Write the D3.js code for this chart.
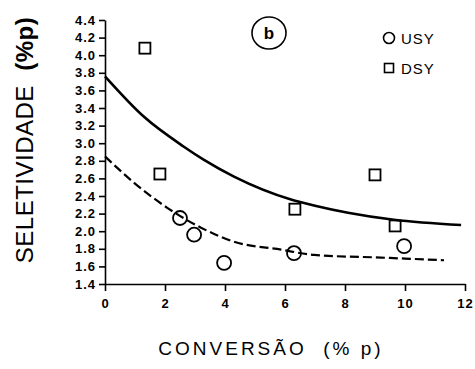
<!DOCTYPE html>
<html>
<head>
<meta charset="utf-8">
<script src="https://cdn.jsdelivr.net/npm/d3@7"></script>
<style>
  body { margin: 0; background: #fff; }
  svg { font-family: 'Liberation Sans', Arial, sans-serif; }
  .axis path, .axis line { stroke: #000; stroke-width: 1.6; }
  .axis text { font-size: 13px; font-weight: bold; fill: #000; letter-spacing: 1px; }
</style>
</head>
<body>
<svg id="chart" width="475" height="369"></svg>
<script>
const usyX = [2.5, 2.97, 3.97, 6.3, 9.97]
const usyY = [2.15, 1.96, 1.64, 1.75, 1.83]
const dsyX = [1.33, 1.83, 6.33, 9.0, 9.67]
const dsyY = [4.08, 2.65, 2.25, 2.64, 2.06]

// fitted curves as drawn (solid = DSY, dashed = USY)
const dsyCurveX = [0, 1.3, 2.63, 3.3, 4.3, 6.2, 7.0, 8.1, 9.63, 11.87]
const dsyCurveY = [3.76, 3.30, 2.96, 2.81, 2.62, 2.36, 2.29, 2.21, 2.13, 2.07]
const usyCurveX = [0, 0.97, 2.1, 3.2, 4.3, 5.87, 6.97, 9.2, 11.3]
const usyCurveY = [2.85, 2.55, 2.26, 2.04, 1.88, 1.79, 1.73, 1.70, 1.67]

const xTicks = [0, 2, 4, 6, 8, 10, 12]
const yTicks = d3.range(14, 45, 2).map(v => v / 10)
const legendLabels = ['USY', 'DSY']

const svg = d3.select('#chart')
const x = d3.scaleLinear().domain([0, 12]).range([105, 465])
const y = d3.scaleLinear().domain([1.4, 4.4]).range([284, 20])

const zip = (a, b) => a.map((v, i) => [v, b[i]])

svg.append('g').classed('axis', true)
  .attr('transform', `translate(0,${y(1.4)})`)
  .call(d3.axisBottom(x).tickValues(xTicks).tickSize(7).tickSizeOuter(0).tickPadding(8).tickFormat(d3.format('d')))

svg.append('g').classed('axis', true)
  .attr('transform', `translate(${x(0)},0)`)
  .call(d3.axisLeft(y).tickValues(yTicks).tickSize(6).tickSizeOuter(0).tickPadding(3).tickFormat(d3.format('.1f')))

const line = d3.line().x(d => x(d[0])).y(d => y(d[1])).curve(d3.curveMonotoneX)

svg.append('path')
  .attr('d', line(zip(dsyCurveX, dsyCurveY)))
  .attr('fill', 'none').attr('stroke', '#000').attr('stroke-width', 2.6)

svg.append('path')
  .attr('d', line(zip(usyCurveX, usyCurveY)))
  .attr('fill', 'none').attr('stroke', '#000').attr('stroke-width', 2.2)
  .attr('stroke-dasharray', '9,4')

svg.append('g').selectAll('circle')
  .data(zip(usyX, usyY)).join('circle')
  .attr('cx', d => x(d[0])).attr('cy', d => y(d[1])).attr('r', 7)
  .attr('fill', 'none').attr('stroke', '#000').attr('stroke-width', 1.8)

svg.append('g').selectAll('rect')
  .data(zip(dsyX, dsyY)).join('rect')
  .attr('x', d => x(d[0]) - 5.5).attr('y', d => y(d[1]) - 5.5)
  .attr('width', 11).attr('height', 11)
  .attr('fill', 'none').attr('stroke', '#000').attr('stroke-width', 1.8)

// panel label
svg.append('ellipse').attr('cx', 269).attr('cy', 33).attr('rx', 17).attr('ry', 16)
  .attr('fill', 'none').attr('stroke', '#000').attr('stroke-width', 1.6)
svg.append('text').attr('x', 269).attr('y', 39).attr('text-anchor', 'middle')
  .attr('font-size', 17).attr('font-weight', 'bold').text('b')

// legend
const legend = svg.append('g').attr('transform', 'translate(389,38)')
legend.append('circle').attr('cx', 0).attr('cy', 0).attr('r', 5.5)
  .attr('fill', 'none').attr('stroke', '#000').attr('stroke-width', 1.6)
legend.append('rect').attr('x', -4.5).attr('y', 25.5).attr('width', 9).attr('height', 9)
  .attr('fill', 'none').attr('stroke', '#000').attr('stroke-width', 1.6)
legend.selectAll('text').data(legendLabels).join('text')
  .attr('x', 12).attr('y', (d, i) => i * 30 + 6)
  .attr('font-size', 15).attr('letter-spacing', 1).text(d => d)

// axis titles
svg.append('text').attr('x', 271).attr('y', 355).attr('text-anchor', 'middle')
  .attr('font-size', 19).attr('letter-spacing', 3).text('CONVERSÃO  (% p)')
  .style('white-space', 'pre')

const yt = svg.append('text').attr('transform', 'translate(33,140) rotate(-90)')
  .attr('text-anchor', 'middle').attr('font-size', 24).attr('letter-spacing', 0.5)
  .style('white-space', 'pre')
yt.append('tspan').text('SELETIVIDADE  ')
yt.append('tspan').attr('font-weight', 'bold').text('(%p)')
</script>
</body>
</html>
